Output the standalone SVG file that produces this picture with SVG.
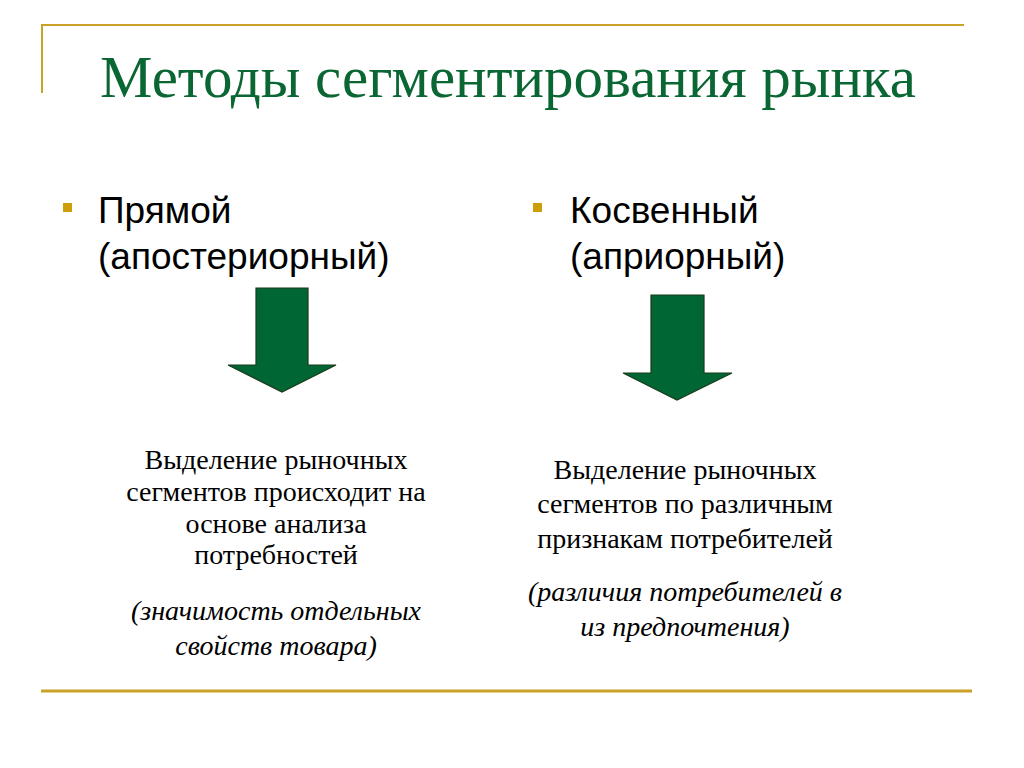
<svg xmlns="http://www.w3.org/2000/svg" width="1024" height="768" viewBox="0 0 1024 768">
<style>
.rule{stroke:#C9A227;fill:none}
.title{font-family:"Liberation Serif",serif;font-size:59px;fill:#0A6633}
.bul{fill:#CC9E0A}
.head{font-family:"Liberation Sans",Arial,sans-serif;font-size:37px;fill:#000}
.body{font-family:"Liberation Serif",serif;font-size:28px;fill:#000;text-anchor:middle}
.it{font-style:italic}
.arrow{fill:#006633;stroke:#1a3a1a;stroke-width:1.2}
</style>
<rect width="1024" height="768" fill="#fff"/>
<g id="frame">
<path class="rule" stroke-width="2" d="M42 93 V25 H964"/>
<line class="rule" stroke-width="3" x1="41" y1="691" x2="972" y2="691"/>
</g>
<g id="title"><text class="title" x="100" y="97">Методы сегментирования рынка</text></g>
<g id="node-direct">
<rect class="bul" x="63" y="203" width="9" height="9"/>
<text class="head" x="98" y="223">Прямой</text>
<text class="head" x="98" y="269">(апостериорный)</text>
</g>
<g id="node-indirect">
<rect class="bul" x="533" y="203" width="9" height="9"/>
<text class="head" x="570" y="223">Косвенный</text>
<text class="head" x="570" y="269">(априорный)</text>
</g>
<g id="connectors">
<path class="arrow" d="M256 288 H308 V365 H336 L282 392 L228 365 H256 Z"/>
<path class="arrow" d="M651 295 H704 V373 H732 L677 400 L623 373 H651 Z"/>
</g>
<g id="node-direct-desc">
<text class="body" x="276" y="469">Выделение рыночных</text>
<text class="body" x="276" y="501">сегментов происходит на</text>
<text class="body" x="276" y="533">основе анализа</text>
<text class="body" x="276" y="564">потребностей</text>
<text class="body it" x="276" y="620">(значимость отдельных</text>
<text class="body it" x="276" y="655">свойств товара)</text>
</g>
<g id="node-indirect-desc">
<text class="body" x="685" y="479">Выделение рыночных</text>
<text class="body" x="685" y="513">сегментов по различным</text>
<text class="body" x="685" y="548">признакам потребителей</text>
<text class="body it" x="685" y="601">(различия потребителей в</text>
<text class="body it" x="685" y="636">из предпочтения)</text>
</g>
</svg>
